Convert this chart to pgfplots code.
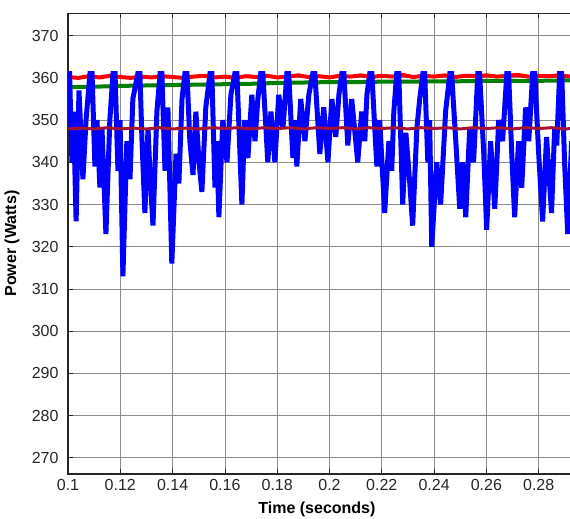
\documentclass[border=0pt]{standalone}
\usepackage{pgfplots}
\pgfplotsset{compat=1.18}
\usepackage{fontspec}
\setmainfont{Liberation Sans}
\definecolor{mblue}{RGB}{0,0,255}
\definecolor{mred}{RGB}{255,0,0}
\definecolor{mgreen}{RGB}{0,128,0}
\definecolor{mmaroon}{RGB}{162,20,47}
\definecolor{axgray}{RGB}{38,38,38}
\begin{document}
\begin{tikzpicture}
\begin{axis}[
  scale only axis,
  width=523pt, height=460.5pt,
  xmin=0.1, xmax=0.3,
  ymin=266.2, ymax=375.3,
  xtick={0.1,0.12,0.14,0.16,0.18,0.2,0.22,0.24,0.26,0.28,0.3},
  xticklabels={0.1,0.12,0.14,0.16,0.18,0.2,0.22,0.24,0.26,0.28,{}},
  ytick={270,280,290,300,310,320,330,340,350,360,370},
  /pgf/number format/assume math mode=true,
  tick align=inside,
  major tick length=5pt,
  tick style={axgray, line width=0.8pt},
  grid=major,
  major grid style={black!45, line width=0.8pt},
  axis line style={axgray, line width=1.4pt},
  ticklabel style={font=\fontsize{16}{18}\selectfont, text=axgray},
  xticklabel style={yshift=-2pt},
  yticklabel style={xshift=-6pt},
  xlabel={\textbf{Time (seconds)}},
  ylabel={\textbf{Power (Watts)}},
  label style={font=\fontsize{16}{18}\selectfont},
  xlabel style={at={(axis description cs:0.476,0)}, anchor=center, yshift=-36pt},
  ylabel style={at={(axis description cs:-0.107,0.5)}, anchor=center},
  clip=true,
]
\coordinate (bl) at (rel axis cs:0,0);
\coordinate (tl) at (rel axis cs:0,1);
% red
\addplot[mred, line width=4pt] coordinates {
(0.100,360.2)(0.104,360.0)(0.108,360.4)(0.112,360.1)(0.116,360.5)(0.120,360.2)(0.124,360.0)(0.128,360.3)
(0.132,360.1)(0.136,360.4)(0.140,360.2)(0.144,360.0)(0.148,360.3)(0.152,360.5)(0.156,360.1)(0.160,360.3)
(0.164,360.0)(0.168,360.4)(0.172,360.2)(0.176,360.5)(0.180,360.1)(0.184,360.3)(0.188,360.6)(0.192,360.2)
(0.196,360.4)(0.200,360.1)(0.204,360.5)(0.208,360.3)(0.212,360.6)(0.216,360.2)(0.220,360.5)(0.224,360.3)
(0.228,360.7)(0.232,360.2)(0.236,360.5)(0.240,360.3)(0.244,360.6)(0.248,360.2)(0.252,360.5)(0.256,360.4)
(0.260,360.6)(0.264,360.3)(0.268,360.5)(0.272,360.7)(0.276,360.3)(0.280,360.5)(0.284,360.4)(0.288,360.6)
(0.292,360.3)(0.296,360.5)(0.300,360.4)
};
% green
\addplot[mgreen, line width=4pt] coordinates {
(0.100,357.8)(0.110,357.9)(0.120,358.1)(0.130,358.2)(0.140,358.3)(0.150,358.4)(0.160,358.5)
(0.170,358.6)(0.180,358.8)(0.190,358.9)(0.200,359.0)(0.210,359.0)(0.220,359.1)(0.230,359.1)
(0.240,359.2)(0.250,359.2)(0.260,359.3)(0.270,359.3)(0.280,359.3)(0.290,359.4)(0.300,359.4)
};
% blue
\addplot[mblue, line width=5pt, line join=miter, miter limit=2] coordinates {
(0.1000,361)(0.1006,361)(0.1015,340)(0.1021,352)(0.1031,326)(0.1042,357)(0.1057,336)(0.1069,350)
(0.1084,361)(0.1092,361)(0.1103,339)(0.1111,350)(0.1122,334)(0.1130,348)(0.1145,323)(0.1160,350)
(0.1172,361)(0.1180,361)(0.1191,338)(0.1199,350)(0.1210,313)(0.1225,345)(0.1237,336)(0.1248,355)
(0.1267,361)(0.1275,361)(0.1283,345)(0.1294,328)(0.1306,348)(0.1313,338)(0.1325,325)(0.1340,352)
(0.1352,361)(0.1359,361)(0.1371,338)(0.1382,353)(0.1397,316)(0.1413,342)(0.1424,335)(0.1436,355)
(0.1447,361)(0.1455,361)(0.1466,345)(0.1478,337)(0.1489,352)(0.1501,340)(0.1512,333)(0.1527,353)
(0.1543,361)(0.1550,361)(0.1562,334)(0.1569,345)(0.1577,327)(0.1592,350)(0.1608,340)(0.1623,356)
(0.1638,361)(0.1646,361)(0.1665,330)(0.1676,350)(0.1688,341)(0.1703,356)(0.1715,345)(0.1726,355)
(0.1737,361)(0.1745,361)(0.1757,348)(0.1764,340)(0.1776,352)(0.1791,340)(0.1806,356)(0.1822,348)
(0.1837,361)(0.1844,361)(0.1860,341)(0.1867,350)(0.1875,339)(0.1890,355)(0.1906,345)(0.1921,356)
(0.1936,361)(0.1944,361)(0.1963,342)(0.1978,353)(0.1994,340)(0.2009,355)(0.2024,346)(0.2036,356)
(0.2047,361)(0.2055,361)(0.2070,344)(0.2085,355)(0.2108,340)(0.2123,352)(0.2135,345)(0.2143,356)
(0.2154,361)(0.2162,361)(0.2181,339)(0.2192,350)(0.2211,328)(0.2227,345)(0.2238,338)(0.2246,352)
(0.2257,361)(0.2265,361)(0.2280,330)(0.2292,347)(0.2307,335)(0.2318,325)(0.2334,348)(0.2345,355)
(0.2357,361)(0.2364,361)(0.2376,340)(0.2383,350)(0.2391,320)(0.2410,340)(0.2425,330)(0.2444,352)
(0.2460,361)(0.2467,361)(0.2483,345)(0.2498,329)(0.2509,340)(0.2521,327)(0.2536,348)(0.2551,340)
(0.2567,361)(0.2574,361)(0.2590,342)(0.2601,324)(0.2616,345)(0.2632,329)(0.2647,350)(0.2662,345)
(0.2678,361)(0.2685,361)(0.2697,342)(0.2708,327)(0.2723,345)(0.2735,334)(0.2750,353)(0.2762,345)
(0.2777,361)(0.2785,361)(0.2800,342)(0.2815,326)(0.2830,346)(0.2849,328)(0.2861,348)(0.2869,344)
(0.2880,361)(0.2888,361)(0.2899,340)(0.2911,323)(0.2926,345)(0.2941,335)(0.2957,361)
};
% maroon
\addplot[mmaroon, line width=3pt] coordinates {
(0.100,347.9)(0.105,348.1)(0.110,347.9)(0.115,348.2)(0.120,347.9)(0.125,348.1)(0.130,347.9)
(0.135,348.2)(0.140,347.9)(0.145,348.1)(0.150,347.9)(0.155,348.2)(0.160,348.0)(0.165,348.2)
(0.170,347.9)(0.175,348.2)(0.180,348.0)(0.185,348.2)(0.190,347.9)(0.195,348.2)(0.200,348.0)
(0.205,348.2)(0.210,347.9)(0.215,348.2)(0.220,348.0)(0.225,348.2)(0.230,347.9)(0.235,348.2)
(0.240,348.0)(0.245,348.2)(0.250,347.9)(0.255,348.2)(0.260,348.0)(0.265,348.2)(0.270,347.9)
(0.275,348.2)(0.280,348.0)(0.285,348.2)(0.290,347.9)(0.295,348.1)(0.300,348.0)
};
\end{axis}
\pgfresetboundingbox
\useasboundingbox ([shift={(-68pt,-45.2pt)}]bl) rectangle ([shift={(502pt,13.3pt)}]tl);
\end{tikzpicture}
\end{document}
